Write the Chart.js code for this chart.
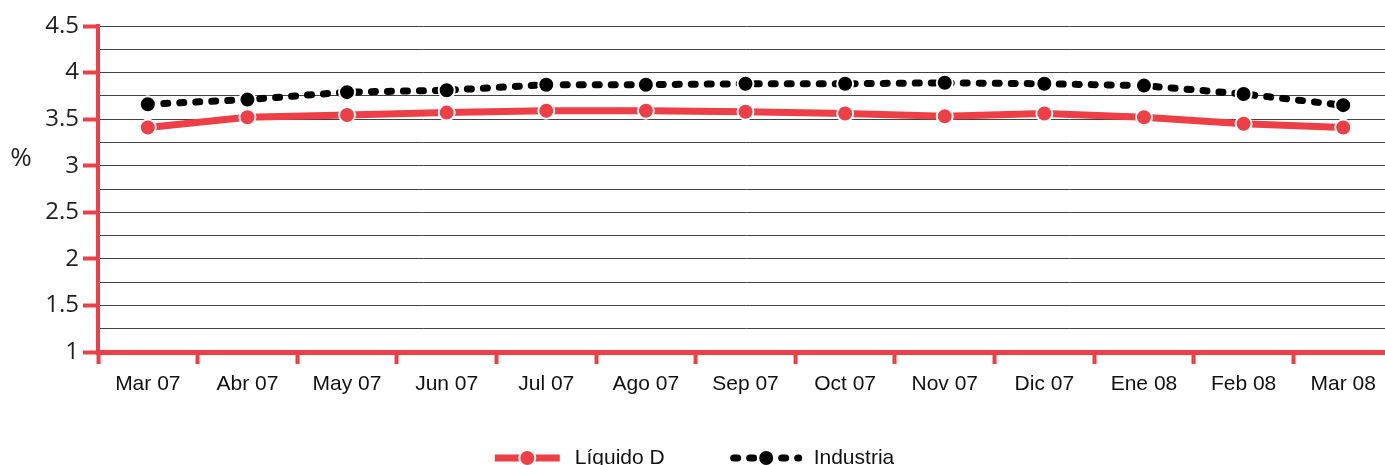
<!DOCTYPE html>
<html>
<head>
<meta charset="utf-8">
<script src="https://cdn.jsdelivr.net/npm/chart.js@4"></script>
<style>
    html, body { margin: 0; padding: 0; background: #fff; overflow: hidden; }
    #wrap { width: 1385px; height: 465px; overflow: hidden; position: relative; }
    #rateChart { position: absolute; left: 0; top: 0; }
</style>
</head>
<body>
<div id="wrap"><canvas id="rateChart" width="1393" height="465"></canvas></div>
<script>
const months = ['Mar 07', 'Abr 07', 'May 07', 'Jun 07', 'Jul 07', 'Ago 07', 'Sep 07',
    'Oct 07', 'Nov 07', 'Dic 07', 'Ene 08', 'Feb 08', 'Mar 08'];
const liquidoD = [3.41, 3.52, 3.545, 3.57, 3.59, 3.59, 3.58, 3.56, 3.53, 3.56, 3.52, 3.45, 3.41];
const industria = [3.66, 3.71, 3.79, 3.81, 3.87, 3.87, 3.88, 3.88, 3.89, 3.88, 3.86, 3.77, 3.65];
const yTickLabels = ['1', '1.5', '2', '2.5', '3', '3.5', '4', '4.5'];
const yUnit = '%';

const RED = '#ee3f47';

// legend with line samples + "%" label drawn on the canvas
const extras = {
    id: 'extras',
    afterDraw(chart) {
        const ctx = chart.ctx;
        const yScale = chart.scales.y;
        ctx.save();

        ctx.fillStyle = '#231f20';
        ctx.font = '26px "Open Sans"';
        ctx.textAlign = 'center';
        ctx.textBaseline = 'middle';
        ctx.fillText(yUnit, 21, yScale.getPixelForValue(3.08));

        const items = chart.data.datasets;
        ctx.font = '21px "Liberation Sans"';
        const sampleW = 71, gapText = 12, gapItem = 66;
        let total = 0;
        items.forEach((ds, i) => {
            total += sampleW + gapText + ctx.measureText(ds.label).width;
            if (i < items.length - 1) total += gapItem;
        });
        let x = 693 - total / 2;
        const y = 458;
        items.forEach(ds => {
            ctx.beginPath();
            ctx.strokeStyle = ds.borderColor;
            ctx.lineWidth = ds.borderWidth;
            ctx.lineCap = ds.borderCapStyle || 'butt';
            ctx.setLineDash(ds.borderDash || []);
            ctx.moveTo(x + 3, y);
            ctx.lineTo(x + sampleW - 3, y);
            ctx.stroke();
            ctx.setLineDash([]);
            ctx.beginPath();
            ctx.arc(x + sampleW / 2, y, 8, 0, Math.PI * 2);
            ctx.fillStyle = ds.pointBackgroundColor;
            ctx.fill();
            ctx.lineWidth = 2;
            ctx.strokeStyle = '#fff';
            ctx.stroke();

            ctx.fillStyle = '#111';
            ctx.textAlign = 'left';
            ctx.fillText(ds.label, x + sampleW + gapText, y);
            x += sampleW + gapText + ctx.measureText(ds.label).width + gapItem;
        });
        ctx.restore();
    }
};

const ctx = document.getElementById('rateChart').getContext('2d');
new Chart(ctx, {
    type: 'line',
    data: {
        labels: months,
        datasets: [{
            label: 'Líquido D',
            data: liquidoD,
            borderColor: RED,
            backgroundColor: RED,
            borderWidth: 7,
            pointRadius: 8,
            pointBackgroundColor: RED,
            pointBorderColor: '#fff',
            pointBorderWidth: 2,
            tension: 0,
            fill: false
        }, {
            label: 'Industria',
            data: industria,
            borderColor: '#000',
            backgroundColor: '#000',
            borderWidth: 7,
            borderDash: [4, 12],
            borderCapStyle: 'round',
            pointRadius: 8,
            pointBackgroundColor: '#000',
            pointBorderColor: '#fff',
            pointBorderWidth: 2,
            tension: 0,
            fill: false
        }]
    },
    options: {
        responsive: false,
        animation: false,
        layout: { autoPadding: false, padding: { top: 26, left: 0, right: 0, bottom: 0 } },
        plugins: {
            legend: { display: false },
            tooltip: { enabled: false }
        },
        scales: {
            x: {
                offset: true,
                grid: {
                    offset: true,
                    drawOnChartArea: false,
                    tickLength: 12,
                    tickColor: RED,
                    tickWidth: 4
                },
                border: { color: RED, width: 5 },
                ticks: {
                    font: { family: 'Liberation Sans', size: 21 },
                    color: '#111',
                    padding: 8,
                    maxRotation: 0,
                    autoSkip: false
                },
                afterFit: scale => { scale.height = 113; }
            },
            y: {
                min: 1,
                max: 4.5,
                ticks: {
                    stepSize: 0.25,
                    maxTicksLimit: 20,
                    autoSkip: false,
                    font: { family: 'Open Sans', size: 24 },
                    color: '#231f20',
                    padding: 4,
                    callback: v => yTickLabels.includes(String(v)) ? String(v) : ''
                },
                grid: {
                    color: '#444',
                    lineWidth: 1,
                    tickLength: 15,
                    tickWidth: 4,
                    tickColor: c => yTickLabels.includes(String(c.tick.value)) ? RED : 'rgba(0,0,0,0)'
                },
                border: { color: RED, width: 4 },
                afterFit: scale => { scale.width = 98; }
            }
        }
    },
    plugins: [extras]
});
</script>
</body>
</html>
